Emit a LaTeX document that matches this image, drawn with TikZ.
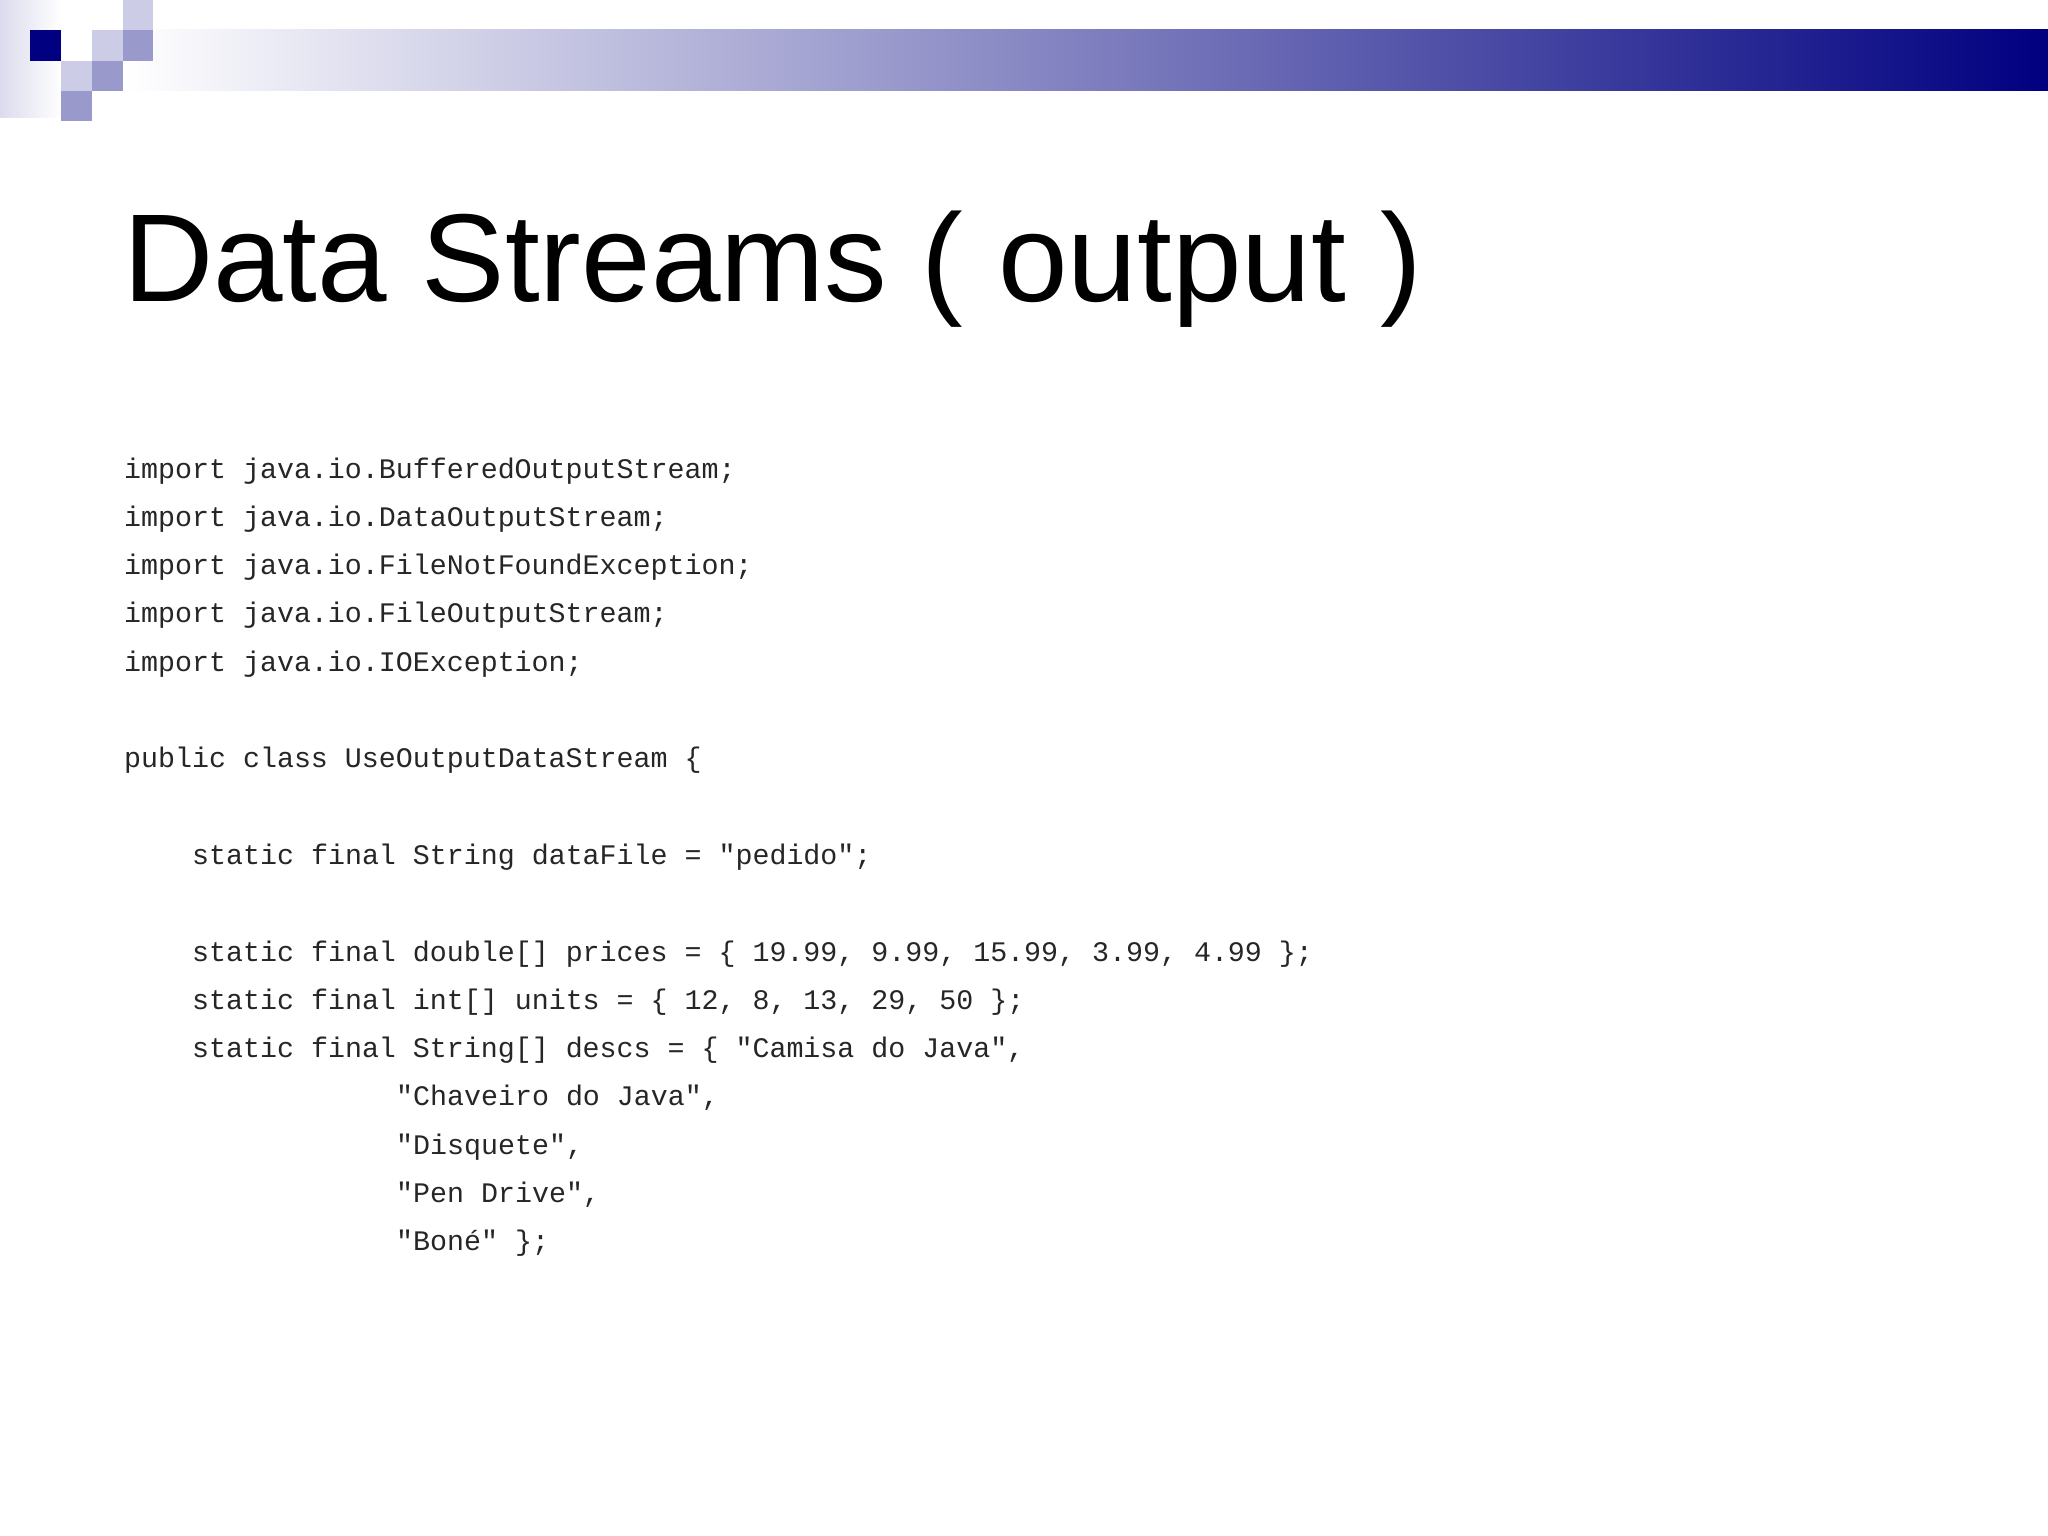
\documentclass[tikz,border=0pt]{standalone}
\usepackage{fontspec}
\setmainfont{Liberation Sans}
\setmonofont{Liberation Mono}
\definecolor{navy}{RGB}{0,0,128}
\definecolor{lightsq}{RGB}{204,204,230}
\definecolor{medsq}{RGB}{153,153,204}
\begin{document}
\begin{tikzpicture}[x=1pt,y=-1pt,
  code/.style={anchor=base west,inner sep=0pt,font=\ttfamily\fontsize{28.3}{34}\selectfont,text=black!85}]
\useasboundingbox (0,0) rectangle (2048,1536);
\fill[white] (0,0) rectangle (2048,1536);
\shade[left color=lightsq!70,right color=white] (0,0) rectangle (62,118);
\shade[left color=white,right color=navy] (123,30) rectangle (2048,91);
\fill[navy] (30,30) rectangle (61,61);
\fill[lightsq] (123,0) rectangle (153,30);
\fill[lightsq] (92,30) rectangle (123,61);
\fill[medsq] (123,30) rectangle (153,61);
\fill[medsq] (92,61) rectangle (123,91);
\fill[lightsq] (61,61) rectangle (92,91);
\fill[medsq] (61,91) rectangle (92,121);
\node[anchor=base west,inner sep=0pt,font=\fontsize{125}{150}\selectfont] (title) at (123,301) {Data Streams ( output )};
\def\lh{48.3}
\def\cx{124}
\def\cy{478}
\foreach \i/\ind/\t [count=\k] in {
 0/0/{import java.io.BufferedOutputStream;},
 1/0/{import java.io.DataOutputStream;},
 2/0/{import java.io.FileNotFoundException;},
 3/0/{import java.io.FileOutputStream;},
 4/0/{import java.io.IOException;},
 6/0/{public class UseOutputDataStream \{},
 8/4/{static final String dataFile = "pedido";},
 10/4/{static final double[] prices = \{ 19.99, 9.99, 15.99, 3.99, 4.99 \};},
 11/4/{static final int[] units = \{ 12, 8, 13, 29, 50 \};},
 12/4/{static final String[] descs = \{ "Camisa do Java",},
 13/16/{"Chaveiro do Java",},
 14/16/{"Disquete",},
 15/16/{"Pen Drive",},
 16/16/{"Boné" \};}}
 \node[code] (line\k) at ({\cx+\ind*17.0},{\cy+\i*\lh}) {\t};
\end{tikzpicture}
\end{document}
